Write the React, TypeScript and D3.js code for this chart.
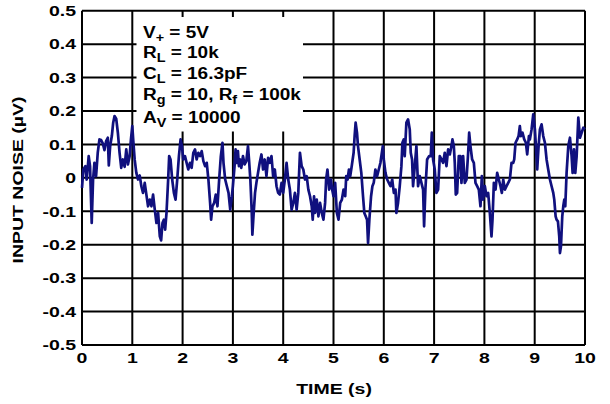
import React from "react";
import * as d3 from "d3";

const xTicks = [0, 1, 2, 3, 4, 5, 6, 7, 8, 9, 10];
const yTicks = [0.5, 0.4, 0.3, 0.2, 0.1, 0, -0.1, -0.2, -0.3, -0.4, -0.5];
const yTickLabels = ["0.5", "0.4", "0.3", "0.2", "0.1", "0", "-0.1", "-0.2", "-0.3", "-0.4", "-0.5"];
const xTitle = "TIME (s)";
const yTitle = "INPUT NOISE (\u00b5V)";

// [time (s), input noise (µV)]
const noise: [number, number][] = [
  [0, -0.03], [0.027, 0.025], [0.067, 0.035], [0.093, -0.005], [0.133, 0.065], [0.16, 0.035], [0.193, -0.135], [0.22, -0.005],
  [0.247, 0.045], [0.28, 0.005], [0.313, 0.075], [0.347, 0.115], [0.38, 0.113], [0.413, 0.103], [0.447, 0.083], [0.48, 0.11],
  [0.513, 0.12], [0.533, 0.037], [0.56, 0.095], [0.593, 0.125], [0.62, 0.165], [0.647, 0.185], [0.68, 0.177], [0.713, 0.135],
  [0.747, 0.075], [0.78, 0.03], [0.813, 0.055], [0.847, 0.033], [0.88, 0.085], [0.913, 0.04], [0.947, 0.065], [0.973, 0.115],
  [1.0, 0.155], [1.02, 0.11], [1.047, 0.055], [1.08, 0.015], [1.113, -0.005], [1.147, 0.007], [1.18, -0.025], [1.213, -0.045],
  [1.247, -0.015], [1.28, -0.05], [1.313, -0.085], [1.347, -0.065], [1.38, -0.085], [1.413, -0.05], [1.447, -0.095], [1.48, -0.135],
  [1.513, -0.105], [1.547, -0.175], [1.573, -0.187], [1.6, -0.135], [1.627, -0.125], [1.653, -0.155], [1.68, -0.105], [1.713, -0.005],
  [1.733, 0.065], [1.76, 0.055], [1.793, -0.005], [1.827, -0.045], [1.86, -0.065], [1.893, -0.005], [1.927, 0.065], [1.96, 0.115],
  [1.987, 0.095], [2.013, 0.055], [2.047, 0.065], [2.08, 0.045], [2.113, 0.025], [2.147, 0.045], [2.18, 0.03], [2.213, 0.075],
  [2.247, 0.085], [2.28, 0.055], [2.313, 0.075], [2.347, 0.065], [2.38, 0.08], [2.413, 0.05], [2.447, 0.035], [2.48, 0.045],
  [2.513, -0.005], [2.547, -0.075], [2.567, -0.125], [2.593, -0.085], [2.627, -0.075], [2.66, -0.05], [2.693, -0.085], [2.727, -0.005],
  [2.76, 0.065], [2.793, 0.105], [2.813, 0.045], [2.847, -0.005], [2.88, -0.025], [2.913, -0.045], [2.947, -0.095], [2.98, -0.055],
  [3.0, -0.025], [3.033, 0.035], [3.053, 0.085], [3.08, 0.045], [3.1, 0.08], [3.12, 0.035], [3.147, 0.055], [3.167, 0.03],
  [3.2, 0.065], [3.233, 0.04], [3.267, 0.05], [3.3, 0.095], [3.32, 0.055], [3.347, -0.005], [3.373, -0.095], [3.387, -0.17],
  [3.413, -0.105], [3.44, -0.045], [3.467, -0.015], [3.5, 0.015], [3.533, 0.045], [3.567, 0.07], [3.6, 0.025], [3.633, 0.055],
  [3.667, 0.005], [3.7, 0.06], [3.733, 0.045], [3.767, 0.065], [3.8, 0.005], [3.833, 0.025], [3.867, -0.025], [3.9, -0.045],
  [3.933, -0.05], [3.967, -0.015], [4.0, -0.045], [4.033, -0.005], [4.067, 0.045], [4.1, -0.005], [4.133, -0.035], [4.167, -0.095],
  [4.2, -0.075], [4.233, -0.045], [4.267, -0.095], [4.3, -0.045], [4.333, 0.075], [4.367, 0.035], [4.4, 0.025], [4.433, -0.005],
  [4.467, 0.005], [4.5, -0.035], [4.533, -0.055], [4.567, -0.085], [4.587, -0.125], [4.613, -0.055], [4.633, -0.105], [4.667, -0.065],
  [4.7, -0.115], [4.733, -0.075], [4.767, -0.105], [4.8, -0.125], [4.833, -0.075], [4.853, -0.005], [4.88, 0.025], [4.913, -0.035],
  [4.947, -0.005], [4.973, -0.035], [5.0, -0.055], [5.033, -0.015], [5.067, -0.105], [5.1, -0.125], [5.133, -0.075], [5.167, -0.065],
  [5.2, -0.035], [5.233, -0.055], [5.253, 0.005], [5.28, -0.005], [5.307, 0.025], [5.333, 0.005], [5.367, 0.04], [5.4, 0.075],
  [5.42, 0.125], [5.44, 0.165], [5.467, 0.135], [5.487, 0.095], [5.52, 0.055], [5.553, 0.015], [5.587, -0.055], [5.613, -0.105],
  [5.64, -0.115], [5.667, -0.125], [5.687, -0.195], [5.713, -0.125], [5.747, -0.055], [5.773, -0.025], [5.8, -0.015], [5.833, 0.025],
  [5.867, 0.005], [5.9, 0.025], [5.933, 0.045], [5.98, 0.095], [6.0, 0.055], [6.033, 0.015], [6.067, -0.005], [6.1, -0.015],
  [6.133, -0.025], [6.167, -0.005], [6.2, -0.045], [6.233, -0.035], [6.25, -0.105], [6.283, -0.075], [6.317, -0.025], [6.35, 0.035],
  [6.37, 0.105], [6.396, 0.115], [6.416, 0.065], [6.449, 0.165], [6.482, 0.175], [6.516, 0.145], [6.536, 0.075], [6.562, 0.055],
  [6.582, -0.025], [6.616, 0.035], [6.648, 0.095], [6.681, -0.025], [6.715, 0.005], [6.748, -0.015], [6.781, -0.035], [6.801, -0.145],
  [6.827, -0.035], [6.861, 0.055], [6.9, 0.065], [6.934, 0.065], [6.954, 0.135], [6.98, 0.055], [7.013, 0.025], [7.046, -0.045],
  [7.08, -0.035], [7.113, 0.065], [7.146, 0.055], [7.179, 0.045], [7.212, 0.075], [7.246, 0.035], [7.279, 0.085], [7.312, 0.07],
  [7.345, 0.095], [7.365, 0.115], [7.392, 0.095], [7.411, 0.045], [7.431, -0.05], [7.458, -0.045], [7.491, 0.065], [7.524, 0.065],
  [7.544, -0.015], [7.577, 0.065], [7.61, -0.015], [7.644, -0.005], [7.677, 0.075], [7.697, 0.135], [7.723, 0.095], [7.756, 0.055],
  [7.79, 0.045], [7.823, -0.015], [7.856, -0.025], [7.889, -0.035], [7.922, -0.085], [7.949, 0.005], [7.975, -0.065], [8.009, -0.025],
  [8.042, -0.055], [8.075, -0.045], [8.108, -0.105], [8.141, -0.175], [8.161, -0.125], [8.188, -0.015], [8.221, -0.035], [8.254, 0.015],
  [8.287, -0.005], [8.32, -0.025], [8.347, -0.045], [8.374, -0.005], [8.407, -0.035], [8.44, -0.025], [8.473, -0.015], [8.506, -0.005],
  [8.539, 0.045], [8.573, 0.045], [8.593, 0.055], [8.619, 0.105], [8.652, 0.115], [8.679, 0.125], [8.705, 0.155], [8.725, 0.125],
  [8.758, 0.135], [8.792, 0.115], [8.825, 0.105], [8.851, 0.07], [8.885, 0.125], [8.904, 0.115], [8.938, 0.145], [8.971, 0.19],
  [9.004, 0.145], [9.024, 0.095], [9.05, 0.025], [9.077, 0.095], [9.104, 0.145], [9.137, 0.16], [9.17, 0.125], [9.203, 0.105],
  [9.236, 0.055], [9.269, 0.025], [9.303, -0.005], [9.336, -0.025], [9.369, -0.045], [9.389, -0.065], [9.416, -0.115], [9.435, -0.125],
  [9.462, -0.13], [9.488, -0.175], [9.502, -0.225], [9.522, -0.205], [9.548, -0.115], [9.568, -0.085], [9.588, -0.065], [9.608, -0.085],
  [9.634, 0.015], [9.668, 0.095], [9.701, 0.12], [9.734, 0.065], [9.754, 0.015], [9.781, 0.085], [9.807, 0.015], [9.834, 0.065],
  [9.867, 0.18], [9.9, 0.12], [9.933, 0.135], [9.967, 0.15], [10.0, 0.145],
];

// annotation lines: [main, subscript, rest, subscript, rest]
const notes: [string, string, string, string, string][] = [
  ["V", "+", " = 5V", "", ""],
  ["R", "L", " = 10k", "", ""],
  ["C", "L", " = 16.3pF", "", ""],
  ["R", "g", " = 10, R", "f", " = 100k"],
  ["A", "V", " = 10000", "", ""],
];

const W = 610;
const H = 404;
const left = 82;
const right = 585;
const top = 10.7;
const bottom = 345;
const FONT = "'Liberation Sans', Arial, Helvetica, sans-serif";
const SX = 1.3;

export default function App() {
  const x = d3.scaleLinear().domain([0, 10]).range([left, right]);
  const y = d3.scaleLinear().domain([-0.5, 0.5]).range([bottom, top]);
  const line = d3
    .line<[number, number]>()
    .x((d) => x(d[0]))
    .y((d) => y(d[1]));

  const baselines = [38, 57.5, 78.5, 100, 123];

  return (
    <svg
      width={W}
      height={H}
      style={{ position: "absolute", left: 0, top: 0, background: "#fff" }}
      fontFamily={FONT}
      fontWeight="bold"
    >
      <rect x={0} y={0} width={W} height={H} fill="#fff" />
      {xTicks.map((t) => (
        <line key={"gx" + t} x1={x(t)} x2={x(t)} y1={top} y2={bottom} stroke="#000" strokeWidth={2} />
      ))}
      {yTicks.map((t) => (
        <line key={"gy" + t} x1={left} x2={right} y1={y(t)} y2={y(t)} stroke="#000" strokeWidth={2} />
      ))}
      <rect x={136.5} y={17} width={166.5} height={114.5} fill="#fff" />
      {notes.map((n, i) => (
        <text key={"n" + i} transform={`translate(143,${baselines[i]}) scale(1.2,1)`} fontSize={15.8} fill="#000">
          <tspan>{n[0]}</tspan>
          <tspan fontSize={12} dy={4}>{n[1]}</tspan>
          <tspan dy={-4}>{n[2]}</tspan>
          {n[3] ? <tspan fontSize={12} dy={4}>{n[3]}</tspan> : null}
          {n[4] ? <tspan dy={-4}>{n[4]}</tspan> : null}
        </text>
      ))}
      <path d={line(noise) || ""} fill="none" stroke="#10107e" strokeWidth={2.7} strokeLinejoin="round" />
      {yTicks.map((t, i) => (
        <text
          key={"yl" + t}
          transform={`translate(76,${y(t) + 5.3}) scale(${SX},1)`}
          textAnchor="end"
          fontSize={15}
          fill="#000"
        >
          {yTickLabels[i]}
        </text>
      ))}
      {xTicks.map((t) => (
        <text
          key={"xl" + t}
          transform={`translate(${x(t)},363) scale(${SX},1)`}
          textAnchor="middle"
          fontSize={15}
          fill="#000"
        >
          {t}
        </text>
      ))}
      <text transform={`translate(334,394) scale(${SX},1)`} textAnchor="middle" fontSize={15} fill="#000">
        {xTitle}
      </text>
      <text transform={`translate(23,180) rotate(-90) scale(${SX},1)`} textAnchor="middle" fontSize={15} fill="#000">
        {yTitle}
      </text>
    </svg>
  );
}
